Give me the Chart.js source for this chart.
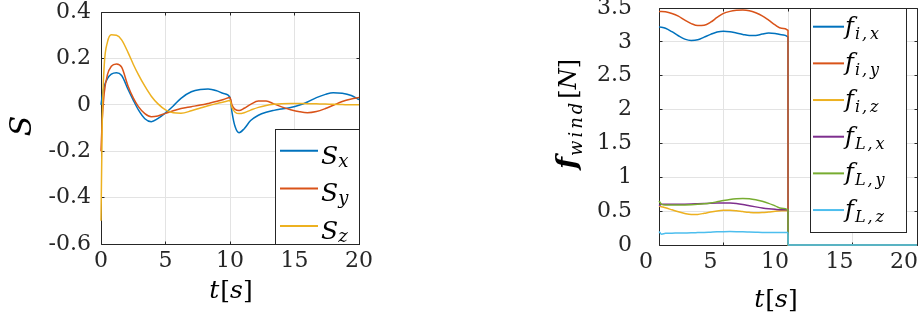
<!DOCTYPE html>
<html>
<head>
<meta charset="utf-8">
<script src="https://cdn.jsdelivr.net/npm/chart.js@4.4.1/dist/chart.umd.min.js"></script>
<style>
  html, body { margin: 0; padding: 0; background: #fff; }
  body { width: 920px; height: 320px; overflow: hidden; position: relative; }
  #leftChart { position: absolute; left: 0; top: 0; }
  #rightChart { position: absolute; left: 460px; top: -12px; }
</style>
</head>
<body>
<canvas id="leftChart" width="460" height="320"></canvas>
<canvas id="rightChart" width="480" height="332"></canvas>
<script>
// ── Data: left panel (S) ─────────────────────────────────
const timeS = [0, 0.1, 0.25, 0.5, 0.8, 1.2, 1.6, 2.1, 2.5, 2.9, 3.4, 3.9, 4.4, 5, 5.6, 6.2, 7, 7.7, 8.3, 9,
               9.5, 10, 10.15, 10.4, 10.7, 11.1, 11.6, 12.2, 12.8, 13.4, 14, 14.7, 15.4, 16, 16.7, 17.4, 18, 18.7, 19.4, 20];
const sX = [0, 0.04, 0.08, 0.113, 0.132, 0.138, 0.126, 0.066, 0.02, -0.022, -0.06, -0.073, -0.06, -0.035, -0.005, 0.028, 0.056, 0.066, 0.068, 0.06,
            0.049, 0.032, -0.03, -0.095, -0.12, -0.103, -0.068, -0.045, -0.032, -0.024, -0.018, -0.012, -0.001, 0.012, 0.031, 0.045, 0.052, 0.05, 0.04, 0.022];
const sY = [-0.2, -0.06, 0.05, 0.13, 0.166, 0.176, 0.162, 0.08, 0.03, -0.008, -0.038, -0.051, -0.048, -0.037, -0.026, -0.016, -0.008, -0.001, 0.006, 0.015,
            0.023, 0.032, 0, -0.02, -0.025, -0.015, 0.002, 0.016, 0.016, 0.004, -0.009, -0.021, -0.03, -0.034, -0.029, -0.016, -0.002, 0.014, 0.025, 0.032];
const sZ = [-0.5, -0.06, 0.17, 0.27, 0.302, 0.3, 0.28, 0.225, 0.175, 0.13, 0.08, 0.037, 0.005, -0.022, -0.034, -0.036, -0.026, -0.014, -0.004, 0.006,
            0.012, 0.018, -0.012, -0.032, -0.038, -0.034, -0.023, -0.011, -0.003, 0.002, 0.005, 0.006, 0.006, 0.005, 0.004, 0.003, 0.002, 0.001, 0, 0];

// ── Data: right panel (f_wind) ───────────────────────────
const timeF = [0, 0.2, 0.5, 1, 1.5, 2, 2.5, 3, 3.5, 4, 4.5, 5, 5.5, 6, 6.5, 7, 7.5, 8, 8.5, 9, 9.5, 10, 10.001, 20];
const fIx = [3.22, 3.215, 3.2, 3.15, 3.09, 3.04, 3.02, 3.03, 3.07, 3.11, 3.145, 3.158, 3.15, 3.13, 3.11, 3.093, 3.095, 3.115, 3.13, 3.125, 3.105, 3.07, 0, 0];
const fIy = [3.45, 3.45, 3.445, 3.42, 3.38, 3.32, 3.27, 3.24, 3.245, 3.29, 3.36, 3.42, 3.45, 3.465, 3.47, 3.46, 3.43, 3.385, 3.32, 3.25, 3.2, 3.17, 0, 0];
const fIz = [0.575, 0.565, 0.55, 0.52, 0.49, 0.465, 0.45, 0.452, 0.468, 0.488, 0.503, 0.512, 0.513, 0.506, 0.493, 0.482, 0.476, 0.479, 0.488, 0.498, 0.506, 0.51, 0, 0];
const fLx = [0.58, 0.6, 0.6, 0.6, 0.6, 0.602, 0.605, 0.609, 0.613, 0.617, 0.62, 0.622, 0.62, 0.612, 0.598, 0.58, 0.563, 0.547, 0.535, 0.527, 0.522, 0.52, 0, 0];
const fLy = [0.65, 0.6, 0.59, 0.59, 0.59, 0.592, 0.595, 0.6, 0.608, 0.62, 0.638, 0.657, 0.673, 0.683, 0.687, 0.683, 0.668, 0.645, 0.615, 0.578, 0.542, 0.52, 0, 0];
const fLz = [0.2, 0.16, 0.172, 0.175, 0.176, 0.178, 0.18, 0.183, 0.186, 0.19, 0.194, 0.197, 0.198, 0.197, 0.195, 0.192, 0.189, 0.186, 0.184, 0.183, 0.183, 0.183, 0, 0];

// ── Ticks and labels ─────────────────────────────────────
const xTicks = [0, 5, 10, 15, 20];
const xTickLabels = ['0', '5', '10', '15', '20'];
const yTicksS = [-0.6, -0.4, -0.2, 0, 0.2, 0.4];
const yTickLabelsS = ['-0.6', '-0.4', '-0.2', '0', '0.2', '0.4'];
const yTicksF = [0, 0.5, 1, 1.5, 2, 2.5, 3, 3.5];
const yTickLabelsF = ['0', '0.5', '1', '1.5', '2', '2.5', '3', '3.5'];
const legendS = [['S', 'x'], ['S', 'y'], ['S', 'z']];
const legendF = [['f', 'i', 'x'], ['f', 'i', 'y'], ['f', 'i', 'z'], ['f', 'L', 'x'], ['f', 'L', 'y'], ['f', 'L', 'z']];

// ── Style ────────────────────────────────────────────────
const COLORS = ['#0072BD', '#D95319', '#EDB120', '#7E2F8E', '#77AC30', '#4DBEEE'];
const AXIS = '#262626';
const GRID = '#e3e3e3';
const SERIF = '"DejaVu Serif", serif';
const it = px => `italic ${px}px ${SERIF}`;
const up = px => `${px}px ${SERIF}`;
const bi = px => `italic bold ${px}px ${SERIF}`;

const pts = (xs, ys) => xs.map((x, i) => ({ x, y: ys[i] }));

// draws a row of text runs (font / baseline shift / gap before)
function drawRuns(ctx, runs, x, y, align) {
    let w = 0;
    runs.forEach(r => {
        ctx.font = r.f;
        r.w = ctx.measureText(r.t).width;
        w += (r.gap || 0) + r.w;
    });
    let cx = align === 'center' ? x - w / 2 : x;
    ctx.textAlign = 'left';
    ctx.textBaseline = 'alphabetic';
    runs.forEach(r => {
        cx += r.gap || 0;
        ctx.font = r.f;
        ctx.fillText(r.t, cx, y + (r.dy || 0));
        cx += r.w;
    });
}

const al = v => Math.round(v - 0.5) + 0.5;

function drawBox(chart) {
    const { ctx, chartArea: a, scales } = chart;
    const L = al(a.left), R = al(a.right), T = al(a.top), B = al(a.bottom);
    ctx.save();
    ctx.strokeStyle = AXIS;
    ctx.lineWidth = 1;
    ctx.beginPath();
    ctx.rect(L, T, R - L, B - T);
    scales.x.ticks.forEach(t => {
        const px = al(scales.x.getPixelForValue(t.value));
        ctx.moveTo(px, B); ctx.lineTo(px, B - 3);
        ctx.moveTo(px, T); ctx.lineTo(px, T + 3);
    });
    scales.y.ticks.forEach(t => {
        const py = al(scales.y.getPixelForValue(t.value));
        ctx.moveTo(L, py); ctx.lineTo(L + 3, py);
        ctx.moveTo(R, py); ctx.lineTo(R - 3, py);
    });
    ctx.stroke();
    ctx.restore();
}

function drawLegend(chart, lg) {
    const { ctx, chartArea: a } = chart;
    const x1 = al(lg.left), y1 = al(lg.top ?? a.top), x2 = al(lg.right ?? a.right), y2 = al(lg.bottom ?? a.bottom);
    ctx.save();
    ctx.fillStyle = '#fff';
    ctx.fillRect(x1, y1, x2 - x1, y2 - y1);
    ctx.strokeStyle = AXIS;
    ctx.lineWidth = 1;
    ctx.strokeRect(x1, y1, x2 - x1, y2 - y1);
    lg.items.forEach((runs, i) => {
        const y = lg.firstY + i * lg.stepY;
        ctx.strokeStyle = COLORS[i];
        ctx.lineWidth = 2;
        ctx.beginPath();
        ctx.moveTo(lg.lineX[0], y);
        ctx.lineTo(lg.lineX[1], y);
        ctx.stroke();
        ctx.fillStyle = '#000';
        drawRuns(ctx, runs, lg.textX, y + lg.baseDy, 'left');
    });
    ctx.restore();
}

function makeDecor(cfg) {
    return {
        id: 'decor',
        beforeDatasetsDraw(chart) { drawBox(chart); },
        afterDatasetsDraw(chart) {
            const ctx = chart.ctx;
            drawLegend(chart, cfg.legend);
            ctx.save();
            ctx.fillStyle = '#000';
            drawRuns(ctx, cfg.xTitle.runs, cfg.xTitle.x, cfg.xTitle.y, 'center');
            ctx.translate(cfg.yTitle.x, cfg.yTitle.y);
            ctx.rotate(-Math.PI / 2);
            drawRuns(ctx, cfg.yTitle.runs, 0, 0, 'center');
            ctx.restore();
        }
    };
}

function line(data, i) {
    return {
        data, borderColor: COLORS[i], backgroundColor: COLORS[i],
        borderWidth: 1.5, pointRadius: 0, fill: false,
        cubicInterpolationMode: 'monotone', clip: false, order: 10 - i
    };
}

function scaleOpts(o) {
    return {
        x: {
            type: 'linear', min: 0, max: 20,
            afterBuildTicks: s => { s.ticks = xTicks.map(v => ({ value: v })); },
            afterFit: s => { s.height = o.xHeight; s.paddingLeft = 0; s.paddingRight = 0; },
            grid: { color: GRID, drawTicks: false },
            border: { display: false },
            ticks: {
                color: AXIS, font: { family: SERIF, size: 22, lineHeight: 0.9 },
                padding: 7, maxRotation: 0, autoSkip: false, labelOffset: o.labelOffset || 0,
                callback: (v, i) => xTickLabels[i]
            }
        },
        y: {
            type: 'linear', min: o.yTicks[0], max: o.yTicks[o.yTicks.length - 1],
            afterBuildTicks: s => { s.ticks = o.yTicks.map(v => ({ value: v })); },
            afterFit: s => { s.width = o.yWidth; s.paddingTop = 0; s.paddingBottom = 0; },
            grid: { color: GRID, drawTicks: false },
            border: { display: false },
            ticks: {
                color: AXIS, font: { family: SERIF, size: 22, lineHeight: 0.9 },
                padding: o.yPad, autoSkip: false,
                callback: (v, i) => o.yLabels[i]
            }
        }
    };
}

const baseOpts = {
    responsive: false,
    animation: false,
    events: [],
    plugins: { legend: { display: false }, tooltip: { enabled: false } }
};

const subS = lbl => [{ t: lbl[0], f: it(25) }, { t: lbl[1], f: it(18), dy: 3, gap: 0 }];
const subF = lbl => [
    { t: lbl[0], f: it(24) },
    { t: lbl[1], f: it(16), dy: 5, gap: 1 },
    { t: ',', f: it(16), dy: 5, gap: 2 },
    { t: lbl[2], f: it(16), dy: 5, gap: 3 }
];
const tsTitle = () => [{ t: 't', f: it(25) }, { t: '[', f: up(25), gap: 1 }, { t: 's', f: it(25) }, { t: ']', f: up(25) }];

function init() {
    // ── Left chart ───────────────────────────────────────
    new Chart(document.getElementById('leftChart'), {
        type: 'line',
        data: { datasets: [pts(timeS, sX), pts(timeS, sY), pts(timeS, sZ)].map(line) },
        options: {
            ...baseOpts,
            layout: { padding: { left: 0, right: 101, top: 12, bottom: 0 } },
            scales: scaleOpts({ xHeight: 76, yWidth: 101, yPad: 10, yTicks: yTicksS, yLabels: yTickLabelsS })
        },
        plugins: [makeDecor({
            legend: { left: 275, top: 129, items: legendS.map(subS), firstY: 150.7, stepY: 37.7,
                      lineX: [280, 318], textX: 321, baseDy: 13 },
            xTitle: { x: 231, y: 298, runs: tsTitle() },
            yTitle: { x: 31, y: 126, runs: [{ t: 'S', f: it(30) }] }
        })]
    });

    // ── Right chart ──────────────────────────────────────
    new Chart(document.getElementById('rightChart'), {
        type: 'line',
        data: { datasets: [fIx, fIy, fIz, fLx, fLy, fLz].map((ys, i) => line(pts(timeF, ys), i)) },
        options: {
            ...baseOpts,
            layout: { padding: { left: 0, right: 23, top: 20, bottom: 0 } },
            scales: scaleOpts({ xHeight: 75, yWidth: 199, yPad: 27, labelOffset: -13, yTicks: yTicksF, yLabels: yTickLabelsF })
        },
        plugins: [makeDecor({
            legend: { left: 350, right: 446, bottom: 244, items: legendF.map(subF), firstY: 38.7, stepY: 36.67,
                      lineX: [353, 384], textX: 385, baseDy: 7 },
            xTitle: { x: 316, y: 319, runs: tsTitle() },
            yTitle: { x: 116, y: 126, runs: [
                { t: 'f', f: bi(28) },
                { t: 'w', f: it(18), dy: 6, gap: 1 }, { t: 'i', f: it(18), dy: 6, gap: 3 },
                { t: 'n', f: it(18), dy: 6, gap: 3 }, { t: 'd', f: it(18), dy: 6, gap: 3 },
                { t: '[', f: up(24), gap: 4 }, { t: 'N', f: it(24) }, { t: ']', f: up(24) }
            ] }
        })]
    });
}

const fontsReady = document.fonts && document.fonts.load
    ? Promise.all([
        document.fonts.load('22px "DejaVu Serif"'),
        document.fonts.load('italic 22px "DejaVu Serif"'),
        document.fonts.load('italic bold 22px "DejaVu Serif"')
      ]).catch(() => null)
    : Promise.resolve();
fontsReady.then(init);
</script>
</body>
</html>
